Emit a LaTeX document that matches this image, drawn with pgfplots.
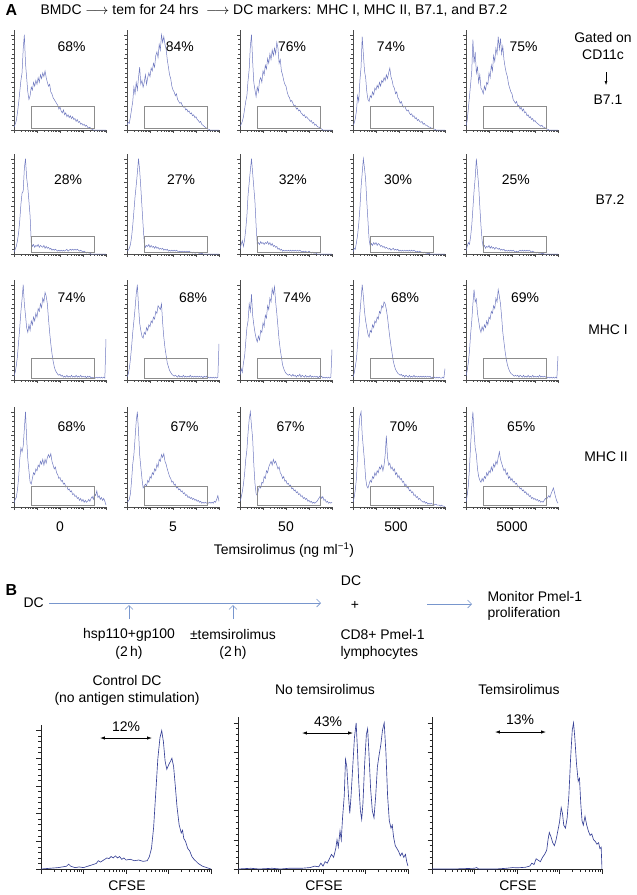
\documentclass[border=0pt]{standalone}
\usepackage{fontspec}
\setmainfont{Liberation Sans}
\usepackage{pgfplots}
\pgfplotsset{compat=1.18}
\usepackage{pgfplotstable}
\usetikzlibrary{arrows.meta}
\definecolor{histA}{RGB}{112,122,192}
\definecolor{histB}{RGB}{55,65,150}
\definecolor{flowc}{RGB}{120,150,205}
\newcommand{\fs}{\fontsize{14}{16}\selectfont}

\pgfplotstableread{
x p1 p2 p3 p4 p5
0.00 0.03 0.05 0.04 0.05 0.04
0.05 0.06 0.08 0.06 0.07 0.10
0.10 0.10 0.07 0.09 0.12 0.22
0.15 0.18 0.14 0.14 0.20 0.35
0.20 0.28 0.22 0.22 0.36 0.48
0.25 0.40 0.30 0.30 0.30 0.62
0.30 0.52 0.45 0.36 0.52 0.95
0.35 0.60 0.38 0.52 0.66 0.70
0.40 0.85 0.50 0.64 0.98 0.82
0.45 1.00 0.42 0.88 0.80 0.60
0.50 0.70 0.55 1.00 0.62 0.66
0.55 0.55 0.66 0.72 0.55 0.50
0.60 0.40 0.48 0.50 0.40 0.58
0.65 0.32 0.52 0.42 0.32 0.44
0.70 0.36 0.45 0.35 0.30 0.42
0.75 0.45 0.50 0.45 0.36 0.38
0.80 0.42 0.58 0.40 0.34 0.46
0.85 0.50 0.48 0.52 0.40 0.42
0.90 0.46 0.55 0.55 0.37 0.50
0.95 0.52 0.60 0.50 0.44 0.48
1.00 0.48 0.56 0.62 0.42 0.60
1.05 0.55 0.65 0.58 0.47 0.55
1.10 0.50 0.62 0.68 0.44 0.68
1.15 0.58 0.70 0.64 0.50 0.62
1.20 0.54 0.66 0.75 0.46 0.78
1.25 0.60 0.78 0.70 0.52 0.72
1.30 0.56 0.82 0.80 0.50 0.86
1.35 0.62 0.76 0.74 0.55 0.80
1.40 0.55 0.90 0.84 0.52 0.98
1.45 0.50 0.84 0.78 0.58 0.85
1.50 0.46 1.00 0.86 0.54 0.96
1.55 0.48 0.92 0.80 0.60 0.80
1.60 0.40 0.98 0.92 0.65 0.88
1.65 0.38 0.90 0.86 0.56 0.74
1.70 0.34 0.85 0.70 0.52 0.66
1.75 0.32 0.74 0.74 0.46 0.60
1.80 0.30 0.66 0.62 0.44 0.56
1.85 0.28 0.58 0.58 0.38 0.48
1.90 0.26 0.54 0.52 0.40 0.44
1.95 0.22 0.46 0.48 0.34 0.40
2.00 0.24 0.42 0.46 0.32 0.38
2.05 0.20 0.40 0.40 0.28 0.32
2.10 0.18 0.36 0.36 0.30 0.30
2.15 0.21 0.38 0.34 0.26 0.28
2.20 0.16 0.32 0.30 0.24 0.30
2.25 0.18 0.30 0.31 0.25 0.25
2.30 0.14 0.28 0.28 0.22 0.26
2.35 0.16 0.29 0.25 0.20 0.22
2.40 0.13 0.26 0.26 0.21 0.24
2.45 0.15 0.24 0.22 0.18 0.20
2.50 0.12 0.25 0.23 0.16 0.22
2.55 0.14 0.21 0.20 0.17 0.18
2.60 0.11 0.22 0.21 0.14 0.19
2.65 0.12 0.19 0.18 0.15 0.15
2.70 0.09 0.20 0.17 0.12 0.16
2.75 0.11 0.17 0.15 0.13 0.13
2.80 0.08 0.18 0.16 0.10 0.14
2.85 0.09 0.15 0.13 0.11 0.11
2.90 0.06 0.16 0.14 0.09 0.12
2.95 0.07 0.13 0.12 0.08 0.09
3.00 0.05 0.14 0.11 0.09 0.10
3.05 0.06 0.11 0.09 0.06 0.08
3.10 0.04 0.10 0.10 0.07 0.07
3.15 0.05 0.08 0.07 0.05 0.06
3.20 0.03 0.09 0.08 0.05 0.05
3.25 0.02 0.06 0.05 0.04 0.04
3.30 0.03 0.05 0.06 0.03 0.05
3.35 0.01 0.04 0.04 0.03 0.03
3.40 0.01 0.03 0.03 0.02 0.03
3.45 0.00 0.02 0.03 0.02 0.02
3.50 0.00 0.01 0.02 0.01 0.01
3.55 0.00 0.01 0.01 0.01 0.01
3.60 0.00 0.00 0.00 0.00 0.00
3.65 0.00 0.00 0.00 0.00 0.00
3.70 0.00 0.00 0.00 0.00 0.00
3.75 0.00 0.00 0.00 0.00 0.00
3.80 0.00 0.00 0.00 0.00 0.00
3.85 0.00 0.00 0.00 0.00 0.00
3.90 0.00 0.00 0.00 0.00 0.00
3.95 0.00 0.00 0.00 0.00 0.00
4.00 0.00 0.00 0.00 0.00 0.00
}\rowA

\pgfplotstableread{
x p1 p2 p3 p4 p5
0.00 0.02 0.03 0.05 0.02 0.03
0.05 0.05 0.04 0.10 0.06 0.08
0.10 0.08 0.06 0.14 0.05 0.12
0.15 0.14 0.10 0.08 0.12 0.10
0.20 0.22 0.18 0.15 0.20 0.18
0.25 0.35 0.30 0.26 0.32 0.30
0.30 0.52 0.45 0.40 0.48 0.48
0.35 0.64 0.60 0.62 0.70 0.66
0.40 0.66 0.72 0.75 0.85 0.80
0.45 0.90 0.85 0.88 1.00 1.00
0.50 1.00 1.00 1.00 0.90 0.86
0.55 0.80 0.88 0.85 0.78 0.72
0.60 0.70 0.70 0.70 0.55 0.50
0.65 0.55 0.50 0.55 0.35 0.30
0.70 0.40 0.30 0.30 0.15 0.14
0.75 0.12 0.12 0.10 0.08 0.07
0.80 0.08 0.07 0.12 0.11 0.09
0.85 0.10 0.09 0.10 0.09 0.06
0.90 0.07 0.08 0.13 0.12 0.08
0.95 0.09 0.10 0.11 0.10 0.07
1.00 0.08 0.07 0.12 0.12 0.09
1.05 0.10 0.09 0.10 0.09 0.06
1.10 0.07 0.07 0.12 0.11 0.08
1.15 0.09 0.08 0.11 0.10 0.06
1.20 0.08 0.06 0.13 0.08 0.07
1.25 0.07 0.08 0.10 0.09 0.05
1.30 0.09 0.06 0.12 0.07 0.07
1.35 0.06 0.07 0.09 0.08 0.06
1.40 0.08 0.05 0.11 0.06 0.05
1.45 0.06 0.06 0.08 0.07 0.06
1.50 0.07 0.05 0.09 0.06 0.04
1.55 0.05 0.06 0.07 0.05 0.05
1.60 0.06 0.04 0.08 0.06 0.04
1.65 0.04 0.05 0.05 0.04 0.05
1.70 0.05 0.04 0.06 0.05 0.03
1.75 0.04 0.05 0.04 0.06 0.04
1.80 0.05 0.03 0.05 0.04 0.03
1.85 0.04 0.04 0.03 0.05 0.04
1.90 0.03 0.03 0.04 0.04 0.03
1.95 0.04 0.04 0.03 0.05 0.04
2.00 0.03 0.03 0.04 0.03 0.03
2.05 0.04 0.04 0.03 0.04 0.04
2.10 0.03 0.03 0.04 0.03 0.03
2.15 0.04 0.04 0.03 0.04 0.02
2.20 0.03 0.03 0.04 0.03 0.03
2.25 0.04 0.02 0.03 0.04 0.02
2.30 0.05 0.03 0.04 0.03 0.03
2.35 0.03 0.02 0.03 0.04 0.04
2.40 0.04 0.03 0.04 0.03 0.03
2.45 0.05 0.02 0.03 0.04 0.04
2.50 0.04 0.03 0.04 0.03 0.03
2.55 0.05 0.02 0.03 0.04 0.04
2.60 0.04 0.03 0.04 0.03 0.03
2.65 0.05 0.02 0.03 0.04 0.04
2.70 0.04 0.03 0.02 0.03 0.03
2.75 0.05 0.02 0.03 0.02 0.04
2.80 0.04 0.02 0.02 0.03 0.03
2.85 0.03 0.01 0.03 0.02 0.02
2.90 0.04 0.02 0.02 0.03 0.03
2.95 0.03 0.01 0.02 0.02 0.02
3.00 0.02 0.01 0.03 0.02 0.02
3.05 0.03 0.02 0.02 0.01 0.01
3.10 0.02 0.01 0.01 0.02 0.02
3.15 0.01 0.01 0.02 0.01 0.01
3.20 0.02 0.00 0.01 0.01 0.01
3.25 0.01 0.01 0.01 0.00 0.01
3.30 0.01 0.00 0.01 0.01 0.00
3.35 0.00 0.00 0.00 0.00 0.01
3.40 0.00 0.00 0.00 0.00 0.00
3.45 0.00 0.00 0.00 0.00 0.00
3.50 0.00 0.00 0.00 0.00 0.00
3.55 0.00 0.00 0.00 0.00 0.00
3.60 0.00 0.00 0.00 0.00 0.00
3.65 0.00 0.00 0.00 0.00 0.00
3.70 0.00 0.00 0.00 0.00 0.00
3.75 0.00 0.00 0.00 0.00 0.00
3.80 0.00 0.00 0.00 0.00 0.00
3.85 0.00 0.00 0.00 0.00 0.00
3.90 0.00 0.00 0.00 0.00 0.00
3.95 0.00 0.00 0.00 0.00 0.00
4.00 0.00 0.00 0.00 0.00 0.00
}\rowB

\pgfplotstableread{
x p1 p2 p3 p4 p5
0.00 0.04 0.03 0.05 0.03 0.04
0.05 0.08 0.06 0.12 0.07 0.10
0.10 0.15 0.12 0.08 0.14 0.18
0.15 0.25 0.22 0.18 0.22 0.30
0.20 0.40 0.35 0.25 0.38 0.48
0.25 0.55 0.50 0.40 0.52 0.62
0.30 0.72 0.62 0.55 0.70 0.80
0.35 0.85 0.75 0.62 0.85 0.95
0.40 1.00 0.90 0.80 1.00 0.82
0.45 0.80 1.00 0.72 0.88 0.85
0.50 0.68 0.78 0.90 0.72 0.70
0.55 0.55 0.60 0.68 0.62 0.62
0.60 0.50 0.52 0.58 0.55 0.54
0.65 0.58 0.46 0.50 0.48 0.50
0.70 0.52 0.44 0.44 0.45 0.56
0.75 0.62 0.50 0.40 0.52 0.52
0.80 0.58 0.48 0.46 0.50 0.58
0.85 0.66 0.55 0.42 0.58 0.55
0.90 0.62 0.52 0.52 0.55 0.62
0.95 0.70 0.58 0.50 0.62 0.58
1.00 0.66 0.56 0.60 0.60 0.66
1.05 0.75 0.62 0.56 0.66 0.64
1.10 0.72 0.60 0.68 0.64 0.72
1.15 0.80 0.66 0.65 0.72 0.70
1.20 0.76 0.64 0.78 0.70 0.78
1.25 0.86 0.72 0.74 0.78 0.75
1.30 0.82 0.70 0.86 0.76 0.86
1.35 0.92 0.78 0.82 0.82 0.82
1.40 0.88 0.76 0.96 0.80 0.95
1.45 0.80 0.74 0.90 0.74 0.88
1.50 0.64 0.80 0.98 0.66 0.80
1.55 0.50 0.60 0.82 0.55 0.66
1.60 0.38 0.45 0.70 0.45 0.50
1.65 0.28 0.34 0.56 0.36 0.40
1.70 0.20 0.26 0.42 0.28 0.30
1.75 0.14 0.18 0.32 0.20 0.22
1.80 0.10 0.14 0.24 0.15 0.16
1.85 0.08 0.10 0.16 0.11 0.12
1.90 0.06 0.08 0.12 0.09 0.09
1.95 0.05 0.06 0.09 0.07 0.07
2.00 0.06 0.05 0.07 0.06 0.06
2.05 0.04 0.04 0.06 0.05 0.05
2.10 0.05 0.05 0.05 0.06 0.04
2.15 0.03 0.04 0.06 0.04 0.05
2.20 0.04 0.03 0.05 0.05 0.04
2.25 0.03 0.05 0.04 0.03 0.05
2.30 0.05 0.03 0.06 0.05 0.03
2.35 0.03 0.04 0.04 0.04 0.05
2.40 0.04 0.03 0.05 0.03 0.04
2.45 0.03 0.05 0.03 0.05 0.03
2.50 0.05 0.03 0.05 0.03 0.05
2.55 0.03 0.04 0.04 0.04 0.03
2.60 0.04 0.03 0.06 0.03 0.04
2.65 0.03 0.04 0.03 0.05 0.03
2.70 0.05 0.03 0.05 0.03 0.05
2.75 0.03 0.05 0.04 0.04 0.03
2.80 0.04 0.03 0.03 0.03 0.04
2.85 0.03 0.04 0.05 0.04 0.03
2.90 0.05 0.03 0.03 0.03 0.05
2.95 0.03 0.04 0.04 0.04 0.03
3.00 0.04 0.03 0.03 0.03 0.04
3.05 0.03 0.04 0.05 0.04 0.03
3.10 0.04 0.03 0.03 0.03 0.04
3.15 0.02 0.04 0.04 0.04 0.03
3.20 0.04 0.03 0.03 0.03 0.05
3.25 0.03 0.04 0.04 0.04 0.03
3.30 0.04 0.02 0.03 0.03 0.04
3.35 0.02 0.04 0.04 0.04 0.03
3.40 0.03 0.03 0.02 0.02 0.04
3.45 0.02 0.04 0.04 0.03 0.03
3.50 0.03 0.02 0.03 0.02 0.04
3.55 0.02 0.03 0.04 0.03 0.02
3.60 0.03 0.02 0.02 0.02 0.03
3.65 0.02 0.03 0.03 0.03 0.02
3.70 0.03 0.02 0.02 0.02 0.03
3.75 0.02 0.03 0.03 0.03 0.02
3.80 0.03 0.02 0.02 0.02 0.03
3.85 0.02 0.03 0.03 0.02 0.02
3.90 0.03 0.02 0.02 0.03 0.03
3.95 0.02 0.03 0.03 0.02 0.02
4.00 0.43 0.38 0.32 0.12 0.25
}\rowC

\pgfplotstableread{
x p1 p2 p3 p4 p5
0.00 0.04 0.05 0.06 0.05 0.05
0.05 0.08 0.06 0.10 0.10 0.12
0.10 0.10 0.08 0.16 0.18 0.22
0.15 0.18 0.14 0.24 0.30 0.40
0.20 0.30 0.28 0.35 0.55 0.65
0.25 0.50 0.45 0.50 0.80 0.85
0.30 0.62 0.55 0.60 0.95 1.00
0.35 0.58 0.72 0.78 1.00 0.78
0.40 0.64 0.90 0.92 0.76 0.62
0.45 0.82 1.00 1.00 0.62 0.55
0.50 1.00 0.80 0.85 0.48 0.40
0.55 0.72 0.55 0.72 0.30 0.32
0.60 0.50 0.42 0.45 0.22 0.28
0.65 0.38 0.30 0.25 0.20 0.26
0.70 0.26 0.20 0.14 0.24 0.30
0.75 0.24 0.22 0.12 0.28 0.27
0.80 0.30 0.24 0.18 0.26 0.32
0.85 0.36 0.22 0.22 0.32 0.30
0.90 0.34 0.28 0.20 0.30 0.36
0.95 0.40 0.26 0.26 0.36 0.33
1.00 0.38 0.32 0.25 0.33 0.38
1.05 0.44 0.30 0.32 0.38 0.36
1.10 0.42 0.36 0.30 0.36 0.42
1.15 0.48 0.34 0.38 0.42 0.38
1.20 0.45 0.40 0.36 0.40 0.45
1.25 0.50 0.38 0.42 0.44 0.42
1.30 0.44 0.45 0.45 0.38 0.48
1.35 0.50 0.42 0.48 0.44 0.45
1.40 0.46 0.50 0.44 0.55 0.52
1.45 0.52 0.48 0.50 0.75 0.58
1.50 0.55 0.55 0.46 0.52 0.50
1.55 0.52 0.52 0.48 0.44 0.46
1.60 0.56 0.56 0.44 0.46 0.42
1.65 0.48 0.48 0.40 0.40 0.38
1.70 0.44 0.45 0.42 0.42 0.40
1.75 0.40 0.40 0.36 0.38 0.34
1.80 0.42 0.36 0.34 0.40 0.36
1.85 0.36 0.32 0.30 0.34 0.30
1.90 0.34 0.30 0.32 0.36 0.32
1.95 0.30 0.26 0.27 0.31 0.28
2.00 0.31 0.27 0.28 0.33 0.30
2.05 0.27 0.23 0.24 0.29 0.26
2.10 0.28 0.24 0.25 0.30 0.27
2.15 0.24 0.20 0.22 0.26 0.24
2.20 0.25 0.21 0.23 0.27 0.25
2.25 0.21 0.18 0.19 0.22 0.21
2.30 0.22 0.19 0.20 0.24 0.22
2.35 0.18 0.16 0.17 0.20 0.19
2.40 0.19 0.17 0.18 0.21 0.20
2.45 0.16 0.14 0.15 0.17 0.17
2.50 0.17 0.15 0.16 0.18 0.18
2.55 0.13 0.12 0.13 0.15 0.15
2.60 0.14 0.13 0.14 0.16 0.16
2.65 0.11 0.10 0.11 0.12 0.13
2.70 0.12 0.11 0.12 0.13 0.14
2.75 0.09 0.09 0.09 0.10 0.11
2.80 0.10 0.10 0.10 0.11 0.12
2.85 0.07 0.08 0.08 0.08 0.09
2.90 0.09 0.09 0.09 0.09 0.10
2.95 0.06 0.07 0.06 0.07 0.08
3.00 0.08 0.08 0.07 0.06 0.09
3.05 0.05 0.06 0.05 0.05 0.07
3.10 0.07 0.07 0.06 0.06 0.08
3.15 0.05 0.05 0.04 0.04 0.06
3.20 0.06 0.06 0.05 0.05 0.07
3.25 0.08 0.04 0.04 0.03 0.05
3.30 0.06 0.05 0.05 0.04 0.06
3.35 0.09 0.04 0.06 0.03 0.05
3.40 0.11 0.05 0.08 0.04 0.07
3.45 0.08 0.04 0.10 0.03 0.09
3.50 0.14 0.05 0.12 0.03 0.08
3.55 0.12 0.04 0.09 0.02 0.10
3.60 0.17 0.05 0.11 0.03 0.12
3.65 0.10 0.04 0.07 0.02 0.10
3.70 0.12 0.05 0.08 0.02 0.14
3.75 0.08 0.04 0.05 0.02 0.17
3.80 0.10 0.06 0.06 0.01 0.20
3.85 0.07 0.05 0.04 0.02 0.15
3.90 0.09 0.08 0.05 0.01 0.10
3.95 0.06 0.12 0.04 0.01 0.06
4.00 0.02 0.06 0.05 0.00 0.04
}\rowD

\pgfplotsset{
  logticks/.style={xtick={0,1,2,3,4},
    minor xtick={0.301,0.477,0.602,0.699,0.778,0.845,0.903,0.954,
      1.301,1.477,1.602,1.699,1.778,1.845,1.903,1.954,
      2.301,2.477,2.602,2.699,2.778,2.845,2.903,2.954,
      3.301,3.477,3.602,3.699,3.778,3.845,3.903,3.954},
    xticklabels={}, yticklabels={}},
  fa/.style={scale only axis, width=92bp, height=100bp,
    xmin=0, xmax=4, ymin=0, ymax=1.05,
    axis x line*=bottom, axis y line*=left,
    axis line style={draw=black!70, line width=0.5pt, -},
    logticks, ytick={0,0.25,0.5,0.75,1}, minor y tick num=4,
    tick align=outside, major tick length=3bp, minor tick length=1.6bp,
    every tick/.style={draw=black!70, line width=0.4pt}},
  fb/.style={scale only axis, width=170bp,
    xmin=0, xmax=4, ymin=0, ymax=1.04,
    axis x line*=bottom, axis y line*=left,
    axis line style={draw=black!85, line width=0.6pt, -},
    logticks, ytick={0,0.2,0.4,0.6,0.8,1}, minor y tick num=4,
    tick align=outside, major tick length=4.5bp, minor tick length=2.5bp,
    every tick/.style={draw=black!85, line width=0.5pt}},
  lineA/.style={histA, line width=0.5pt, no markers},
  lineB/.style={histB, line width=0.65pt, no markers},
}

\newcommand{\hist}[8]{%
  \begin{axis}[fa, at={(#1bp,-#2bp)}, anchor=north west]
    \addplot[lineA] table[x=x,y=#4]{#3};
    \draw[black!45, line width=0.5pt] (axis cs:0.73,0.015) rectangle (axis cs:3.5,#8);
    \node[font=\fs] at (axis cs:#6,#7) {#5};
  \end{axis}}

\begin{document}
\begin{tikzpicture}
\path[use as bounding box] (0,0) rectangle (637bp,-895bp);

% ---------------- Panel A ----------------
\node[font=\fontsize{16}{18}\selectfont\bfseries, anchor=west] at (2bp,-10bp) {A};
\node[font=\fs, anchor=west] at (37bp,-10bp) {BMDC $\longrightarrow$ tem for 24 hrs \ $\longrightarrow$ DC markers: MHC I, MHC II, B7.1, and B7.2};

% row 1 B7.1
\hist{14}{30}{\rowA}{p1}{68\%}{2.5}{0.87}{0.25}
\hist{127}{30}{\rowA}{p2}{84\%}{2.3}{0.87}{0.25}
\hist{240}{30}{\rowA}{p3}{76\%}{2.26}{0.87}{0.25}
\hist{353}{30}{\rowA}{p4}{74\%}{1.65}{0.87}{0.25}
\hist{466}{30}{\rowA}{p5}{75\%}{2.5}{0.87}{0.25}
% row 2 B7.2
\hist{14}{154}{\rowB}{p1}{28\%}{2.35}{0.78}{0.19}
\hist{127}{154}{\rowB}{p2}{27\%}{2.35}{0.78}{0.19}
\hist{240}{154}{\rowB}{p3}{32\%}{2.3}{0.78}{0.19}
\hist{353}{154}{\rowB}{p4}{30\%}{1.96}{0.78}{0.19}
\hist{466}{154}{\rowB}{p5}{25\%}{2.17}{0.78}{0.19}
% row 3 MHC I
\hist{14}{280}{\rowC}{p1}{74\%}{2.5}{0.86}{0.23}
\hist{127}{280}{\rowC}{p2}{68\%}{2.87}{0.86}{0.23}
\hist{240}{280}{\rowC}{p3}{74\%}{2.48}{0.86}{0.23}
\hist{353}{280}{\rowC}{p4}{68\%}{2.26}{0.86}{0.23}
\hist{466}{280}{\rowC}{p5}{69\%}{2.57}{0.86}{0.23}
% row 4 MHC II
\hist{14}{407}{\rowD}{p1}{68\%}{2.5}{0.84}{0.22}
\hist{127}{407}{\rowD}{p2}{67\%}{2.5}{0.84}{0.22}
\hist{240}{407}{\rowD}{p3}{67\%}{2.2}{0.84}{0.22}
\hist{353}{407}{\rowD}{p4}{70\%}{2.2}{0.84}{0.22}
\hist{466}{407}{\rowD}{p5}{65\%}{2.4}{0.84}{0.22}

% right-hand labels
\node[font=\fs] at (603bp,-38bp) {Gated on};
\node[font=\fs] at (603bp,-55bp) {CD11c};
\draw[-{Latex[length=4pt,width=3pt]}, line width=0.5pt] (606bp,-72bp) -- (606bp,-85bp);
\node[font=\fs] at (608bp,-100bp) {B7.1};
\node[font=\fs] at (610bp,-200bp) {B7.2};
\node[font=\fs] at (608bp,-330bp) {MHC I};
\node[font=\fs] at (606bp,-457bp) {MHC II};

% column labels
\node[font=\fs] at (60bp,-527bp) {0};
\node[font=\fs] at (173bp,-527bp) {5};
\node[font=\fs] at (286bp,-527bp) {50};
\node[font=\fs] at (396bp,-527bp) {500};
\node[font=\fs] at (512bp,-527bp) {5000};
\node[font=\fs] at (284bp,-550bp) {Temsirolimus (ng ml\textsuperscript{−1})};

% ---------------- Panel B ----------------
\node[font=\fontsize{16}{18}\selectfont\bfseries, anchor=west] at (2bp,-590bp) {B};
\node[font=\fs] at (351bp,-581bp) {DC};
\node[font=\fs, anchor=west] at (20bp,-603bp) {DC};
\draw[flowc, line width=0.7pt, -{Straight Barb[length=4pt,width=8pt]}] (49bp,-603bp) -- (321bp,-603bp);
\node[font=\fs] at (355bp,-605bp) {+};
\draw[flowc, line width=0.7pt, -{Straight Barb[length=4pt,width=8pt]}] (427bp,-604bp) -- (472bp,-604bp);
\node[font=\fs, anchor=west] at (484bp,-597bp) {Monitor Pmel-1};
\node[font=\fs, anchor=west] at (484bp,-614bp) {proliferation};
\draw[flowc, line width=0.7pt, -{Straight Barb[length=4pt,width=8pt]}] (129bp,-619bp) -- (129bp,-605bp);
\draw[flowc, line width=0.7pt, -{Straight Barb[length=4pt,width=8pt]}] (233bp,-619bp) -- (233bp,-605bp);
\node[font=\fs] at (129bp,-635bp) {hsp110+gp100};
\node[font=\fs] at (129bp,-653bp) {(2\,h)};
\node[font=\fs] at (233bp,-635bp) {±temsirolimus};
\node[font=\fs] at (233bp,-653bp) {(2\,h)};
\node[font=\fs, anchor=west] at (337bp,-635bp) {CD8+ Pmel-1};
\node[font=\fs, anchor=west] at (337bp,-653bp) {lymphocytes};

\node[font=\fs] at (127bp,-681bp) {Control DC};
\node[font=\fs] at (127bp,-699bp) {(no antigen stimulation)};
\node[font=\fs] at (325bp,-690bp) {No temsirolimus};
\node[font=\fs] at (519bp,-690bp) {Temsirolimus};

% CFSE histograms
\begin{axis}[fb, height=144bp, at={(41bp,-725bp)}, anchor=north west]
\addplot[lineB] coordinates {
(0,0) (0.2,0.005) (0.4,0.01) (0.5,0.015) (0.6,0.02) (0.65,0.035) (0.7,0.02) (0.8,0.01) (0.9,0.015) (1.0,0.01) (1.1,0.02) (1.2,0.03) (1.3,0.04) (1.35,0.06) (1.4,0.05) (1.5,0.07) (1.55,0.08) (1.6,0.075) (1.65,0.09) (1.7,0.08) (1.75,0.095) (1.8,0.08) (1.85,0.09) (1.9,0.07) (1.95,0.08) (2.0,0.065) (2.1,0.07) (2.2,0.06) (2.3,0.065) (2.4,0.055) (2.5,0.06) (2.55,0.09) (2.6,0.15) (2.65,0.3) (2.7,0.55) (2.75,0.8) (2.8,0.95) (2.84,1.0) (2.88,0.92) (2.92,0.78) (2.96,0.72) (3.0,0.75) (3.05,0.78) (3.08,0.8) (3.12,0.74) (3.16,0.6) (3.2,0.45) (3.25,0.32) (3.3,0.26) (3.33,0.28) (3.36,0.22) (3.4,0.2) (3.45,0.15) (3.5,0.13) (3.55,0.09) (3.6,0.07) (3.7,0.04) (3.8,0.02) (3.9,0.01) (4.0,0.0)};
\end{axis}
\begin{axis}[fb, height=152bp, at={(238bp,-717bp)}, anchor=north west]
\addplot[lineB] coordinates {
(0,0) (0.3,0.005) (0.5,0.0) (0.8,0.005) (1.0,0.0) (1.2,0.005) (1.5,0.005) (1.7,0.01) (1.8,0.02) (1.9,0.015) (1.95,0.04) (2.0,0.02) (2.05,0.05) (2.1,0.04) (2.15,0.07) (2.2,0.1) (2.25,0.08) (2.3,0.14) (2.33,0.2) (2.36,0.15) (2.4,0.26) (2.43,0.2) (2.46,0.35) (2.5,0.5) (2.53,0.75) (2.56,0.7) (2.6,0.5) (2.63,0.38) (2.66,0.5) (2.7,0.7) (2.74,0.9) (2.78,1.0) (2.81,0.82) (2.84,0.6) (2.88,0.4) (2.91,0.34) (2.94,0.45) (2.98,0.72) (3.02,0.92) (3.05,0.96) (3.08,0.8) (3.12,0.55) (3.16,0.4) (3.2,0.35) (3.24,0.5) (3.28,0.7) (3.32,0.78) (3.36,0.85) (3.4,0.95) (3.44,1.0) (3.48,0.8) (3.52,0.5) (3.56,0.33) (3.6,0.28) (3.63,0.3) (3.66,0.22) (3.7,0.16) (3.74,0.14) (3.78,0.12) (3.82,0.09) (3.86,0.11) (3.9,0.08) (3.94,0.1) (3.97,0.05) (4.0,0.02)};
\end{axis}
\begin{axis}[fb, height=152bp, at={(432bp,-717bp)}, anchor=north west]
\addplot[lineB] coordinates {
(0,0) (0.5,0.0) (1.0,0.005) (1.05,0.01) (1.1,0.0) (1.5,0.0) (1.75,0.005) (1.9,0.01) (2.0,0.008) (2.1,0.01) (2.2,0.012) (2.3,0.02) (2.35,0.04) (2.4,0.03) (2.45,0.07) (2.5,0.06) (2.55,0.05) (2.6,0.08) (2.65,0.1) (2.7,0.13) (2.73,0.2) (2.76,0.25) (2.8,0.22) (2.84,0.18) (2.88,0.16) (2.92,0.2) (2.96,0.26) (3.0,0.32) (3.04,0.42) (3.07,0.38) (3.1,0.3) (3.14,0.28) (3.18,0.35) (3.22,0.5) (3.26,0.75) (3.3,0.95) (3.33,1.0) (3.36,0.9) (3.4,0.72) (3.44,0.6) (3.47,0.62) (3.5,0.45) (3.53,0.33) (3.56,0.3) (3.6,0.36) (3.64,0.3) (3.68,0.26) (3.72,0.23) (3.76,0.24) (3.8,0.2) (3.84,0.19) (3.88,0.17) (3.92,0.18) (3.95,0.14) (3.98,0.15) (4.0,0.0)};
\end{axis}

\node[font=\fs] at (126bp,-727bp) {12\%};
\node[font=\fs] at (328bp,-722bp) {43\%};
\node[font=\fs] at (520bp,-720bp) {13\%};
\draw[{Latex[length=5pt,width=3.5pt]}-{Latex[length=5pt,width=3.5pt]}, line width=0.8pt] (100bp,-738bp) -- (152bp,-738bp);
\draw[{Latex[length=5pt,width=3.5pt]}-{Latex[length=5pt,width=3.5pt]}, line width=0.8pt] (302bp,-733bp) -- (353bp,-733bp);
\draw[{Latex[length=5pt,width=3.5pt]}-{Latex[length=5pt,width=3.5pt]}, line width=0.8pt] (495bp,-732bp) -- (546bp,-732bp);

\node[font=\fs] at (127bp,-886bp) {CFSE};
\node[font=\fs] at (324bp,-886bp) {CFSE};
\node[font=\fs] at (518bp,-886bp) {CFSE};
\end{tikzpicture}
\end{document}
